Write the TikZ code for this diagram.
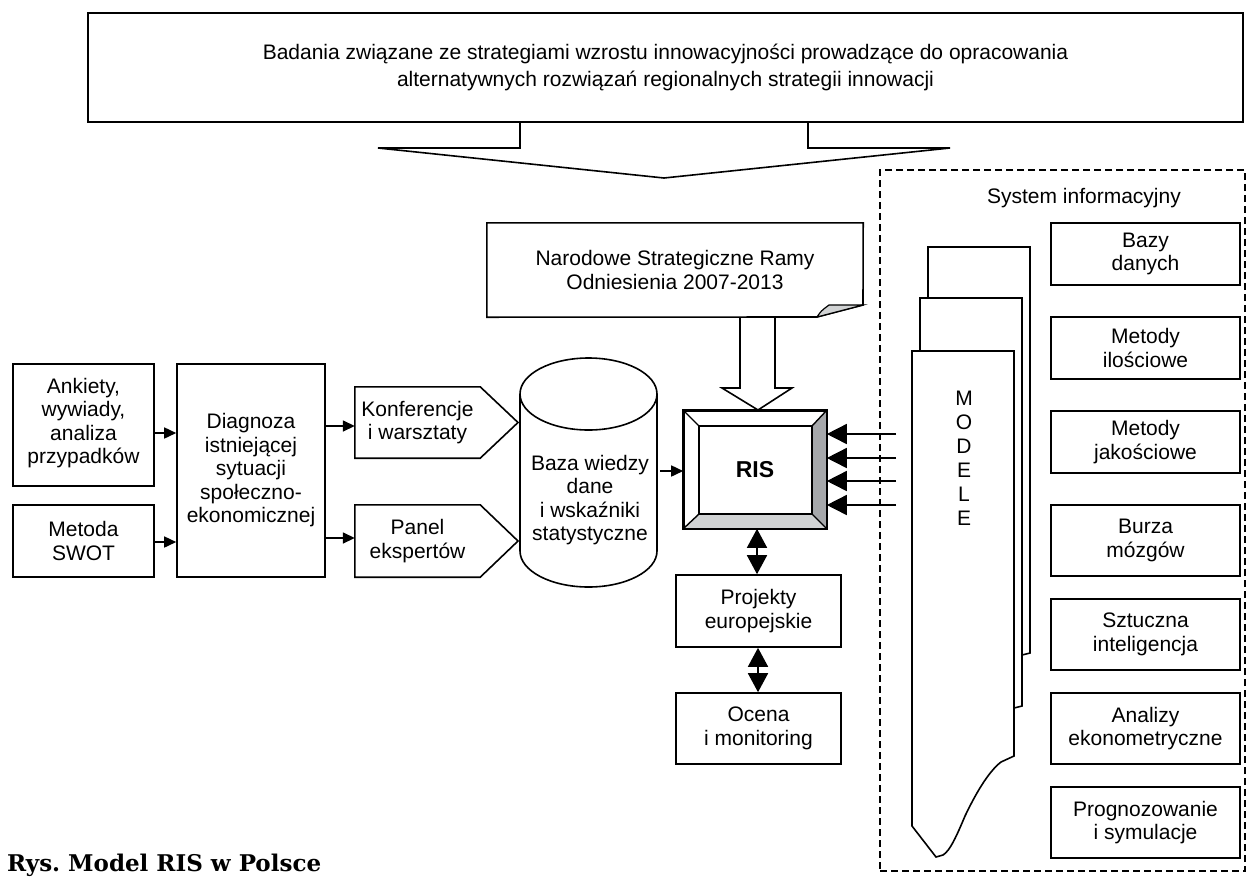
\documentclass[tikz,border=0pt]{standalone}
\usepackage{fontspec}
\setmainfont{Liberation Sans}
\newfontfamily\capfont{DejaVu Serif}
\usetikzlibrary{arrows.meta}
\definecolor{bevdark}{HTML}{A6A8AB}
\definecolor{bevlight}{HTML}{D1D3D4}
\tikzset{
  txt/.style={font=\fontsize{21}{23.5}\selectfont, align=center},
  box/.style={draw, line width=1.6pt, inner sep=0pt, txt},
  ghost/.style={inner sep=0pt, txt},
  arr/.style={line width=1.6pt, -{Triangle[length=12pt,width=11pt]}},
  inarr/.style={line width=1.6pt, -{Triangle[length=20pt,width=20pt]}},
  dbl/.style={line width=1.6pt, {Triangle[length=19pt,width=20pt]}-{Triangle[length=19pt,width=20pt]}},
  shp/.style={draw, line width=1.6pt, line join=miter},
  sysline/.style={draw, line width=1.2pt, dash pattern=on 7pt off 4pt},
}
\begin{document}
\frenchspacing
\begin{tikzpicture}[x=1pt,y=-1pt]
\useasboundingbox (0,0) rectangle (1247,876);
% banner
\node[box, minimum width=1155pt, minimum height=109pt, font=\fontsize{21}{27.5}\selectfont] (top) at (665.5,67.5)
  {Badania związane ze strategiami wzrostu innowacyjności prowadzące do opracowania\\alternatywnych rozwiązań regionalnych strategii innowacji};
\draw[shp] (520,122) -- (520,148) -- (378,148) -- (664,178) -- (950,148) -- (808,148) -- (808,122);
% system box
\node[sysline, minimum width=365pt, minimum height=701pt, inner sep=0pt] (sys) at (1062.5,520.5) {};
\node[ghost] (systitle) at (1084,198) {System informacyjny};
\node[box, minimum width=189pt, minimum height=62pt] (bazy) at (1145.5,254) {Bazy\\danych};
\node[box, minimum width=189pt, minimum height=62pt] (metil) at (1145.5,348) {Metody\\ilościowe};
\node[box, minimum width=189pt, minimum height=62pt] (metjak) at (1145.5,442) {Metody\\jakościowe};
\node[box, minimum width=189pt, minimum height=71pt] (burza) at (1145.5,540.5) {Burza\\mózgów};
\node[box, minimum width=189pt, minimum height=71pt] (szt) at (1145.5,634.5) {Sztuczna\\inteligencja};
\node[box, minimum width=189pt, minimum height=71pt] (anal) at (1145.5,728.5) {Analizy\\ekonometryczne};
\node[box, minimum width=189pt, minimum height=71pt] (progn) at (1145.5,822.5) {Prognozowanie\\i symulacje};
% MODELE pages
\filldraw[shp, fill=white] (928,320) -- (928,247) -- (1030,247) -- (1030,653) -- (1022,655);
\filldraw[shp, fill=white] (920,400) -- (920,298) -- (1022,298) -- (1022,706) -- (1014,708);
\filldraw[shp, fill=white] (912,351) -- (1014,351) -- (1014,756) -- (1001,762)
  .. controls (988,772) and (975,795) .. (965,816)
  .. controls (957,835) and (950,851) .. (943,855) -- (936,857) -- (912,826) -- cycle;
\node[txt, font=\fontsize{21}{24}\selectfont] (modele) at (964,458) {M\\O\\D\\E\\L\\E};
% RIS
\node[draw, line width=1.6pt, minimum width=142pt, minimum height=117pt, inner sep=0pt,
      font=\bfseries\fontsize{23}{23}\selectfont] (ris) at (755,469.5) {RIS};
\coordinate (ri1) at (699,426);
\coordinate (ri2) at (812,426);
\coordinate (ri3) at (812,514);
\coordinate (ri4) at (699,514);
\fill[bevdark] (ris.north east) -- (ris.south east) -- (ri3) -- (ri2) -- cycle;
\fill[bevlight] (ris.south west) -- (ris.south east) -- (ri3) -- (ri4) -- cycle;
\draw[line width=1.4pt] (ri1) rectangle (ri3);
\draw[line width=1.4pt] (ris.north west) -- (ri1) (ris.north east) -- (ri2)
  (ris.south east) -- (ri3) (ris.south west) -- (ri4);
\draw[line width=1.6pt] (ris.north west) rectangle (ris.south east);
% arrows into RIS
\coordinate (m1) at (896,434);
\coordinate (m2) at (896,458);
\coordinate (m3) at (896,481);
\coordinate (m4) at (896,505);
\foreach \n in {1,2,3,4} \draw[inarr] (m\n) -- (ris.east |- m\n);
% Narodowe
\node[ghost, minimum width=376pt, minimum height=94pt] (nsrr) at (675,270) {Narodowe Strategiczne Ramy\\Odniesienia 2007-2013};
\draw[shp] (nsrr.north west) -- (nsrr.north east) -- (863,305) -- (817,317) -- (nsrr.south west) -- cycle;
\filldraw[shp, fill=bevlight, line width=1.2pt] (817,317) .. controls (821,311) .. (829,305) -- (863,305) -- cycle;
\draw[shp] (740,317) -- (740,388) -- (722,388) -- (758,410) -- (792,388) -- (775,388) -- (775,317);
% cylinder
\node[inner sep=0pt, minimum width=137pt, minimum height=157pt] (baza) at (588.5,472.5) {};
\draw[shp] (520,394) -- (520,551) arc[start angle=180, end angle=360, x radius=68.5pt, y radius=36pt] -- (657,394);
\draw[shp] (588.5,394) ellipse [x radius=68.5pt, y radius=36pt];
\node[txt] (bazatxt) at (590,500) {Baza wiedzy\\dane\\i wskaźniki\\statystyczne};
% left side
\node[box, minimum width=141pt, minimum height=122pt] (ank) at (83.5,425) {\\[-12pt]Ankiety,\\wywiady,\\analiza\\przypadków};
\node[box, minimum width=141pt, minimum height=72pt] (swot) at (83.5,541) {Metoda\\SWOT};
\node[box, minimum width=148pt, minimum height=213pt] (diag) at (251,470.5) {Diagnoza\\istniejącej\\sytuacji\\społeczno-\\ekonomicznej};
\node[ghost, minimum width=125pt, minimum height=71pt] (konf) at (417.5,422.5) {Konferencje\\i warsztaty};
\draw[shp] (konf.north west) -- (konf.north east) -- (518,422.5) -- (konf.south east) -- (konf.south west) -- cycle;
\node[ghost, minimum width=125pt, minimum height=72pt] (panel) at (417.5,541) {Panel\\ekspertów};
\draw[shp] (panel.north west) -- (panel.north east) -- (518,541) -- (panel.south east) -- (panel.south west) -- cycle;
\draw[arr] (ank.east |- 0,433) -- (diag.west |- 0,433);
\draw[arr] (swot.east |- 0,542) -- (diag.west |- 0,542);
\draw[arr] (diag.east |- 0,426) -- (konf.west |- 0,426);
\draw[arr] (diag.east |- 0,538) -- (panel.west |- 0,538);
\coordinate (bz) at ([xshift=3pt]baza.east);
\draw[arr] (bz |- 0,471) -- (ris.west |- 0,471);
% lower boxes
\node[box, minimum width=165pt, minimum height=72pt] (proj) at (758.5,611) {Projekty\\europejskie};
\node[box, minimum width=165pt, minimum height=71pt] (ocena) at (758.5,728.5) {Ocena\\i monitoring};
\draw[dbl] (ris.south -| 757,0) -- (proj.north -| 757,0);
\draw[dbl] (proj.south -| 758,0) -- (ocena.north -| 758,0);
% caption
\node[anchor=base west, inner sep=0pt, font=\capfont\bfseries\fontsize{23}{23}\selectfont] (cap) at (7,871) {Rys. Model RIS w Polsce};
\end{tikzpicture}
\end{document}
